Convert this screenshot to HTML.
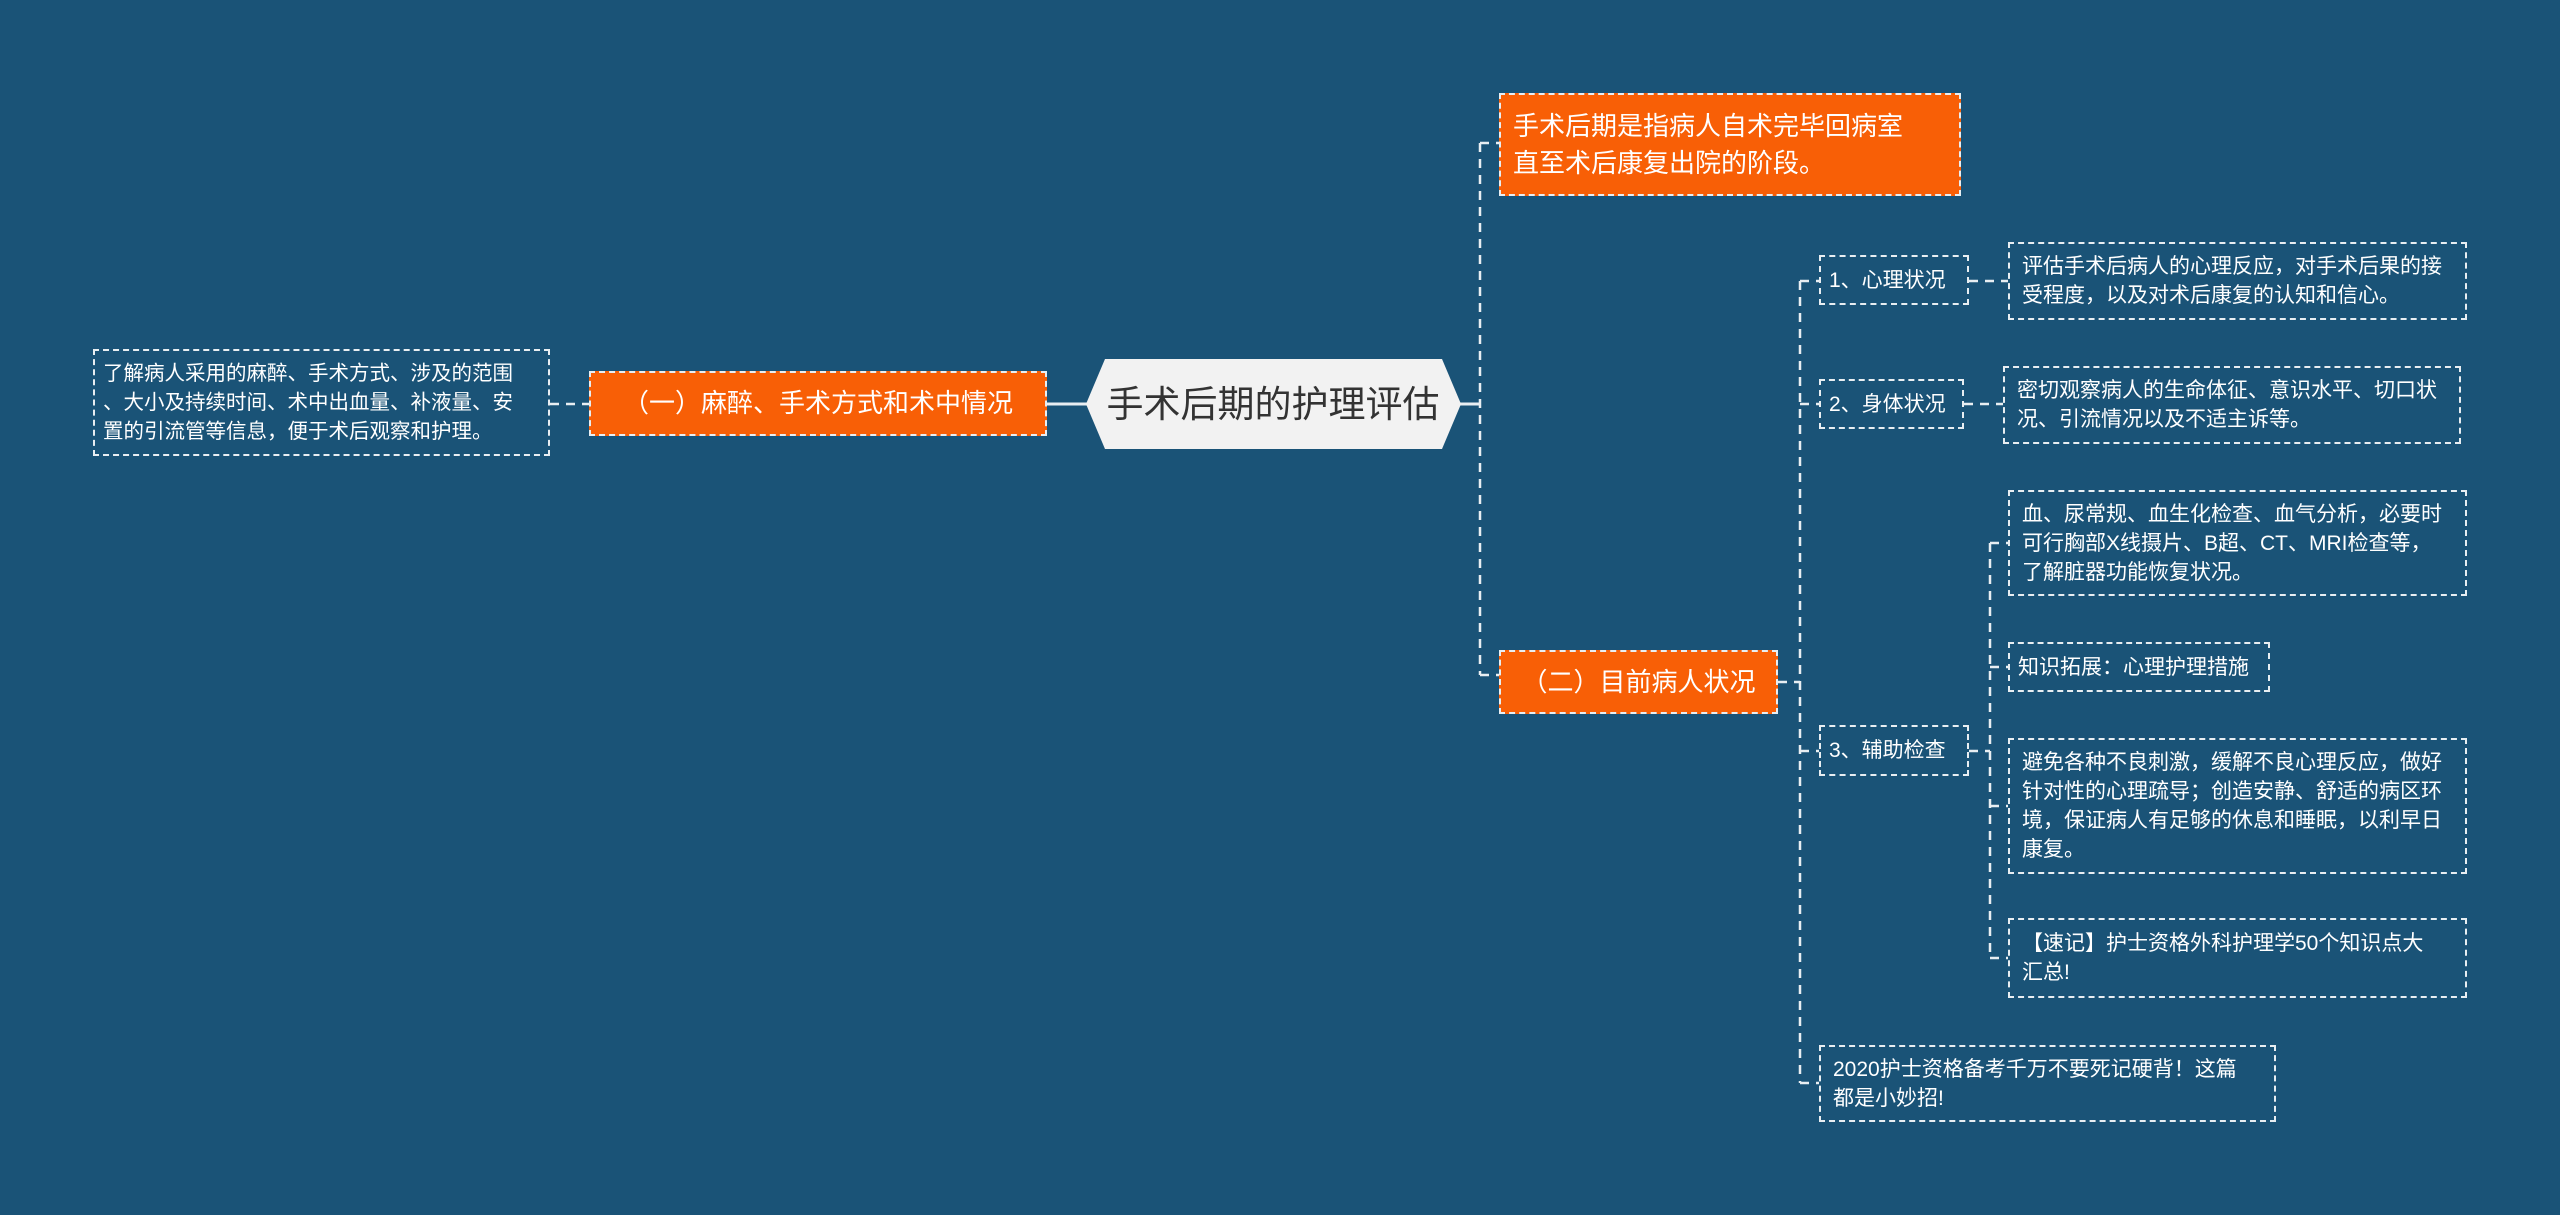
<!DOCTYPE html>
<html><head><meta charset="utf-8"><style>
body{margin:0;width:2560px;height:1215px;background:#1a5377;overflow:hidden;position:relative;font-family:"Liberation Sans","Noto Sans CJK SC",sans-serif}
.b{position:absolute;box-sizing:border-box;border:2px dashed #e8eef2;color:#fff;font-size:21px;line-height:29px;padding:8px 22px 8px 12px;display:flex;align-items:center}
.o{background:#f85f06;font-size:26px;line-height:37px}
svg{position:absolute;left:0;top:0}
</style></head><body>
<svg width="2560" height="1215">
<g stroke="#e8eef2" stroke-width="2.5" fill="none" stroke-dasharray="9 7">
<path d="M1480 143 V675 M1480 143 H1499 M1480 675 H1499"/>
<path d="M1800 281 V1083 M1800 281 H1819 M1800 404 H1819 M1800 751 H1819 M1800 1083 H1819 M1778 682 H1800"/>
<path d="M1969 281 H2008 M1964 404 H2003"/>
<path d="M1990 543 V958 M1969 751 H1990 M1990 543 H2008 M1990 667 H2008 M1990 806 H2008 M1990 958 H2008"/>
<path d="M550 404 H589"/>
</g>
<g stroke="#e8eef2" stroke-width="3">
<path d="M1460 404 H1480 M1047 404 H1088"/>
</g>
<polygon points="1105,359 1442,359 1461,404 1442,449 1105,449 1086,404" fill="#f2f2f2"/>
<text x="1273" y="417" text-anchor="middle" font-size="37" fill="#333" font-family="Liberation Sans,Noto Sans CJK SC,sans-serif">手术后期的护理评估</text>
</svg>
<div class="b" style="left:93px;top:349px;width:457px;height:107px;padding:8px 4px 8px 8px;font-size:20.5px;white-space:nowrap"><div>了解病人采用的麻醉、手术方式、涉及的范围<br>、大小及持续时间、术中出血量、补液量、安<br>置的引流管等信息，便于术后观察和护理。</div></div>
<div class="b o" style="left:589px;top:371px;width:458px;height:65px;justify-content:center;padding:8px">（一）麻醉、手术方式和术中情况</div>
<div class="b o" style="left:1499px;top:93px;width:462px;height:103px;padding-right:40px">手术后期是指病人自术完毕回病室直至术后康复出院的阶段。</div>
<div class="b o" style="left:1499px;top:650px;width:279px;height:64px;justify-content:center;padding:8px">（二）目前病人状况</div>
<div class="b" style="left:1819px;top:255px;width:150px;height:50px;padding:8px">1、心理状况</div>
<div class="b" style="left:2008px;top:242px;width:459px;height:78px;padding-right:8px">评估手术后病人的心理反应，对手术后果的接受程度，以及对术后康复的认知和信心。</div>
<div class="b" style="left:1819px;top:379px;width:145px;height:50px;padding:8px">2、身体状况</div>
<div class="b" style="left:2003px;top:366px;width:458px;height:78px">密切观察病人的生命体征、意识水平、切口状况、引流情况以及不适主诉等。</div>
<div class="b" style="left:2008px;top:490px;width:459px;height:106px;padding-right:16px">血、尿常规、血生化检查、血气分析，必要时可行胸部X线摄片、B超、CT、MRI检查等，了解脏器功能恢复状况。</div>
<div class="b" style="left:2008px;top:642px;width:262px;height:50px;padding:8px">知识拓展：心理护理措施</div>
<div class="b" style="left:1819px;top:725px;width:150px;height:51px;padding:8px">3、辅助检查</div>
<div class="b" style="left:2008px;top:738px;width:459px;height:136px">避免各种不良刺激，缓解不良心理反应，做好针对性的心理疏导；创造安静、舒适的病区环境，保证病人有足够的休息和睡眠，以利早日康复。</div>
<div class="b" style="left:2008px;top:918px;width:459px;height:80px;padding-right:32px">【速记】护士资格外科护理学50个知识点大汇总!</div>
<div class="b" style="left:1819px;top:1045px;width:457px;height:77px;padding-right:28px">2020护士资格备考千万不要死记硬背！这篇都是小妙招!</div>
</body></html>
